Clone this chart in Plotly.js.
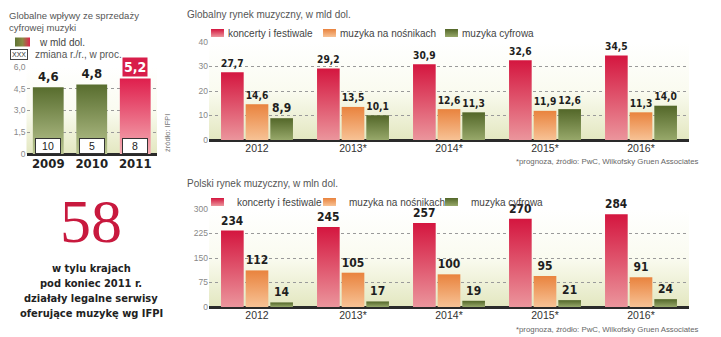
<!DOCTYPE html>
<html><head><meta charset="utf-8">
<script src="https://cdn.plot.ly/plotly-3.0.1.min.js"></script>
<style>html,body{margin:0;padding:0;background:#fff}#gd{width:721px;height:337px}</style>
</head><body><div id="gd"></div>
<script>
// ---- data ----
const leftYears = ['2009', '2010', '2011'];
const leftValues = [4.6, 4.8, 5.2];
const leftChange = [10, 5, 8];
const leftTickVals = [0, 1.5, 3, 4.5, 6];
const leftTickText = ['0', '1,5', '3,0', '4,5', '6,0'];

const years = ['2012', '2013*', '2014*', '2015*', '2016*'];
const seriesNames = ['koncerty i festiwale', 'muzyka na nośnikach', 'muzyka cyfrowa'];
const globalConcerts = [27.7, 29.2, 30.9, 32.6, 34.5];
const globalPhysical = [14.6, 13.5, 12.6, 11.9, 11.3];
const globalDigital = [8.9, 10.1, 11.3, 12.6, 14.0];
const polishConcerts = [234, 245, 257, 270, 284];
const polishPhysical = [112, 105, 100, 95, 91];
const polishDigital = [14, 17, 19, 21, 24];

const bigNumber = 58;
const bigNumberLines = ['w tylu krajach', 'pod koniec 2011 r.', 'działały legalne serwisy', 'oferujące muzykę wg IFPI'];

// ---- styles ----
const W = 721, H = 337;
const px = x => x / W, py = y => 1 - y / H;
const SANS = '"Liberation Sans", Arial, sans-serif';
const BOLDF = '"DejaVu Sans Condensed", "Liberation Sans", sans-serif';
const RED = '#df5a70', ORG = '#f0a06a', GRN = '#76884a', LGRN = '#7d8f52', LRED = '#e85f78';
const grads = {};
grads[RED] = ['#d4163f', '#eb959c'];
grads[ORG] = ['#e9833e', '#f7c295'];
grads[GRN] = ['#536729', '#97a86a'];
grads[LGRN] = ['#586d2e', '#b8c48f'];
grads[LRED] = ['#df1f4d', '#f5adb4'];
const legendWidths = [67, 77, 70];

function barTrace(idx, x, y, xa, ya, leg, tmpl) {
  return {
    type: 'bar', name: seriesNames[idx], x: x, y: y, xaxis: xa, yaxis: ya, legend: leg,
    legendwidth: legendWidths[idx],
    marker: {color: [RED, ORG, GRN][idx], line: {width: 0}}, showlegend: true,
    texttemplate: tmpl, textposition: 'outside', cliponaxis: false,
    textfont: {family: BOLDF, size: 12, color: '#1e1e1e', weight: 'bold'},
    hoverinfo: 'skip'
  };
}

const data = [
  {
    type: 'bar', name: 'w mld dol.', x: leftYears, y: leftValues, xaxis: 'x', yaxis: 'y', legend: 'legend3',
    marker: {color: leftValues.map((v, i) => i === leftValues.length - 1 ? LRED : LGRN), line: {width: 0}},
    text: leftValues.map((v, i) => i === leftValues.length - 1 ? '' : v.toFixed(1).replace('.', ',')),
    textposition: 'outside', cliponaxis: false,
    textfont: {family: BOLDF, size: 13, color: '#1e1e1e', weight: 'bold'}, hoverinfo: 'skip'
  },
  barTrace(0, years, globalConcerts, 'x2', 'y2', 'legend', '%{y:.1f}'),
  barTrace(1, years, globalPhysical, 'x2', 'y2', 'legend', '%{y:.1f}'),
  barTrace(2, years, globalDigital, 'x2', 'y2', 'legend', '%{y:.1f}'),
  barTrace(0, years, polishConcerts, 'x3', 'y3', 'legend2', '%{y}'),
  barTrace(1, years, polishPhysical, 'x3', 'y3', 'legend2', '%{y}'),
  barTrace(2, years, polishDigital, 'x3', 'y3', 'legend2', '%{y}')
];

const yBase = {
  showgrid: true, gridcolor: '#9a9a9a', griddash: 'dot', gridwidth: 1,
  zeroline: true, zerolinecolor: '#2a2a2a', zerolinewidth: 3,
  ticks: '', tickfont: {family: SANS, size: 8.5, color: '#888'}, showline: false, fixedrange: true
};
const xBase = {type: 'category', ticks: '', showline: false, showgrid: false, fixedrange: true,
  tickfont: {family: SANS, size: 10.5, color: '#333'}};

const annotations = [
  {text: 'Globalne wpływy ze sprzedaży<br>cyfrowej muzyki', x: px(7), y: py(21), xref: 'paper', yref: 'paper',
   xanchor: 'left', yanchor: 'middle', align: 'left', showarrow: false, font: {family: SANS, size: 9.5, color: '#555'}},
  {text: 'XXX', x: px(19), y: py(55), xref: 'paper', yref: 'paper', xanchor: 'center', yanchor: 'middle', showarrow: false,
   bordercolor: '#444', borderwidth: 1, borderpad: 1, bgcolor: '#fff', font: {family: SANS, size: 7, color: '#333'}},
  {text: 'zmiana r./r., w proc.', x: px(33), y: py(55), xref: 'paper', yref: 'paper', xanchor: 'left', yanchor: 'middle', showarrow: false,
   font: {family: SANS, size: 10, color: '#555'}},
  {text: 'źródło: IFPI', x: px(167), y: py(133), xref: 'paper', yref: 'paper', xanchor: 'center', yanchor: 'middle', textangle: -90, showarrow: false,
   font: {family: SANS, size: 7.5, color: '#777'}},
  {text: leftValues[2].toFixed(1).replace('.', ','), x: leftYears.length - 1, y: leftValues[2], xref: 'x', yref: 'y',
   xanchor: 'center', yanchor: 'bottom', yshift: 2, showarrow: false, bgcolor: '#d81e4a', borderpad: 1,
   font: {family: BOLDF, size: 14, color: '#fff', weight: 'bold'}},
  {text: 'Globalny rynek muzyczny, w mld dol.', x: px(185), y: py(15), xref: 'paper', yref: 'paper', xanchor: 'left', yanchor: 'middle',
   showarrow: false, font: {family: SANS, size: 10, color: '#555'}},
  {text: 'Polski rynek muzyczny, w mln dol.', x: px(185), y: py(183), xref: 'paper', yref: 'paper', xanchor: 'left', yanchor: 'middle',
   showarrow: false, font: {family: SANS, size: 10, color: '#555'}},
  {text: '*prognoza, źródło: PwC, Wilkofsky Gruen Associates', x: px(701), y: py(162), xref: 'paper', yref: 'paper',
   xanchor: 'right', yanchor: 'middle', showarrow: false, font: {family: SANS, size: 7.8, color: '#666'}},
  {text: '*prognoza, źródło: PwC, Wilkofsky Gruen Associates', x: px(701), y: py(329), xref: 'paper', yref: 'paper',
   xanchor: 'right', yanchor: 'middle', showarrow: false, font: {family: SANS, size: 7.8, color: '#666'}},
  {text: String(bigNumber), x: px(91), y: py(221), xref: 'paper', yref: 'paper', xanchor: 'center', yanchor: 'middle', showarrow: false,
   font: {family: '"Liberation Serif", "DejaVu Serif", serif', size: 62, color: '#c8193e'}}
];
leftChange.forEach((c, i) => annotations.push({
  text: String(c), x: i, y: 0.55, xref: 'x', yref: 'y', xanchor: 'center', yanchor: 'middle', showarrow: false, width: 22, height: 12,
  bordercolor: '#333', borderwidth: 1, bgcolor: '#fff', font: {family: SANS, size: 10.5, color: '#222'}
}));
const lineYs = [268, 283, 298, 313];
bigNumberLines.forEach((t, i) => annotations.push({
  text: t, x: px(91), y: py(lineYs[i]), xref: 'paper', yref: 'paper', xanchor: 'center', yanchor: 'middle', showarrow: false,
  font: {family: BOLDF, size: 11, color: '#222', weight: 'bold'}
}));

const legBase = {orientation: 'h', xanchor: 'left', yanchor: 'middle', bgcolor: 'rgba(0,0,0,0)',
  font: {family: SANS, size: 10, color: '#444'}, traceorder: 'normal'};

const layout = {
  width: W, height: H, margin: {l: 0, r: 0, t: 0, b: 0}, paper_bgcolor: '#fff', plot_bgcolor: '#f3f5e3',
  separators: ', ', barmode: 'group', bargap: 0.23, bargroupgap: 0.08,
  xaxis: Object.assign({}, xBase, {domain: [px(26.5), px(157)], anchor: 'y', range: [-0.5, leftYears.length - 0.5],
    tickfont: {family: BOLDF, size: 13, color: '#222', weight: 'bold'}}),
  yaxis: Object.assign({}, yBase, {domain: [py(154), py(67)], anchor: 'x', range: [0, 6],
    tickvals: leftTickVals, ticktext: leftTickText}),
  xaxis2: Object.assign({}, xBase, {domain: [px(209), px(689)], anchor: 'y2', range: [-0.5, years.length - 0.5]}),
  yaxis2: Object.assign({}, yBase, {domain: [py(140), py(42)], anchor: 'x2', range: [0, 40], dtick: 10}),
  xaxis3: Object.assign({}, xBase, {domain: [px(209), px(689)], anchor: 'y3', range: [-0.5, years.length - 0.5]}),
  yaxis3: Object.assign({}, yBase, {domain: [py(307), py(209)], anchor: 'x3', range: [0, 300], dtick: 75}),
  legend: Object.assign({}, legBase, {x: px(197), y: py(33)}),
  legend2: Object.assign({}, legBase, {x: px(197), y: py(202)}),
  legend3: Object.assign({}, legBase, {x: 0, y: py(42)}),
  annotations: annotations,
  showlegend: true
};

function toRgb(h) { const n = parseInt(h.slice(1), 16); return 'rgb(' + (n >> 16) + ', ' + ((n >> 8) & 255) + ', ' + (n & 255) + ')'; }

const gd = document.getElementById('gd');
Plotly.newPlot(gd, data, layout, {staticPlot: true, displayModeBar: false}).then(() => {
  const ns = 'http://www.w3.org/2000/svg';
  const svg = gd.querySelector('svg.main-svg');
  let defs = svg.querySelector('defs');
  if (!defs) { defs = document.createElementNS(ns, 'defs'); svg.insertBefore(defs, svg.firstChild); }
  function addGrad(id, stops, horiz) {
    const g = document.createElementNS(ns, 'linearGradient');
    g.setAttribute('id', id); g.setAttribute('x1', '0'); g.setAttribute('y1', '0');
    g.setAttribute('x2', horiz ? '1' : '0'); g.setAttribute('y2', horiz ? '0' : '1');
    stops.forEach((c, i) => {
      const s = document.createElementNS(ns, 'stop');
      s.setAttribute('offset', String(i / (stops.length - 1))); s.setAttribute('stop-color', c); g.appendChild(s);
    });
    defs.appendChild(g);
  }
  const map = {};
  Object.keys(grads).forEach((k, i) => { addGrad('g' + i, grads[k], false); map[toRgb(k)] = 'g' + i; });
  addGrad('gbg', ['#ffffff', '#fafbf0', '#e3e7c0'], false);
  addGrad('gleg', ['#5f7433', '#8a8a45', '#e0244f'], true);
  gd.querySelectorAll('path').forEach(p => { const f = p.style.fill; if (map[f]) p.style.fill = 'url(#' + map[f] + ')'; });
  gd.querySelectorAll('rect.bg').forEach(r => { if (!r.closest('.infolayer')) r.style.fill = 'url(#gbg)'; });
  // legend swatch shape / spacing
  gd.querySelectorAll('g.traces').forEach(t => {
    const isLeft = t.textContent.indexOf('w mld dol.') >= 0;
    const txt = t.querySelector('text.legendtext');
    if (txt) txt.setAttribute('x', isLeft ? '34' : '31');
    t.querySelectorAll('.legendpoints path').forEach(p => {
      const base = p.getAttribute('transform') || '';
      if (isLeft) { p.style.fill = 'url(#gleg)'; p.setAttribute('transform', base + ' translate(2.5,0) scale(1.25,0.75)'); }
      else p.setAttribute('transform', base + ' translate(0.5,0) scale(1.08,0.65)');
    });
  });
});
</script></body></html>
